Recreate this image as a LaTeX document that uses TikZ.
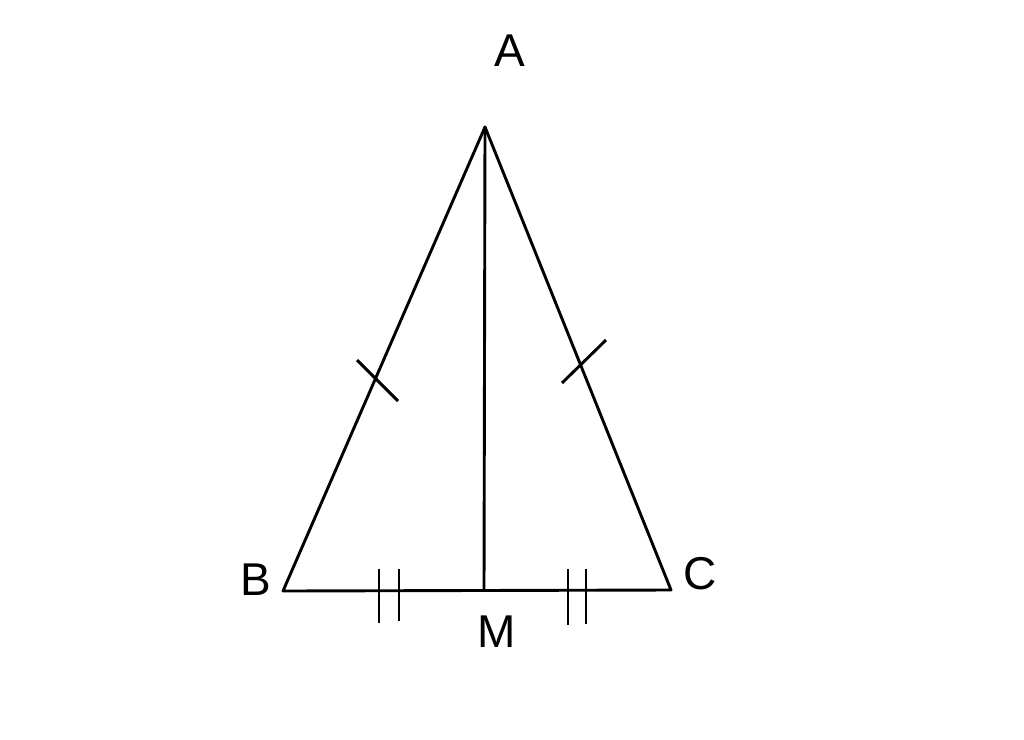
\documentclass[tikz,border=0pt]{standalone}
\usepackage{fontspec}
\setmainfont{Liberation Sans}
\begin{document}
\begin{tikzpicture}[x=1pt,y=-1pt,
  seg/.style={line width=2.9pt,line cap=round,line join=round},
  tick/.style={line width=2.9pt},
  lbl/.style={inner sep=0pt,font=\fontsize{46}{50}\selectfont}]
\useasboundingbox (0,0) rectangle (1024,739);
\coordinate (A) at (485,127);
\coordinate (B) at (283,591);
\coordinate (C) at (671,590);
\coordinate (M) at (484,590.5);
\draw[seg] (B) -- (A) -- (C) -- cycle;
\draw[seg] (A) -- (M);
% single ticks
\coordinate (t1a) at (357,360); \coordinate (t1b) at (398,401);
\coordinate (t2a) at (562,383); \coordinate (t2b) at (606,340);
\draw[tick] (t1a) -- (t1b);
\draw[tick] (t2a) -- (t2b);
% double ticks
\coordinate (d1a) at (379,569); \coordinate (d1b) at (379,623);
\coordinate (d2a) at (399,569); \coordinate (d2b) at (399,621);
\coordinate (d3a) at (568,569); \coordinate (d3b) at (568,625);
\coordinate (d4a) at (586,569); \coordinate (d4b) at (586,624);
\draw[tick] (d1a) -- (d1b);
\draw[tick] (d2a) -- (d2b);
\draw[tick] (d3a) -- (d3b);
\draw[tick] (d4a) -- (d4b);
\node[lbl] (lA) at (510,51) {A};
\node[lbl] (lB) at (256,580) {B};
\node[lbl] (lC) at (700,574) {C};
\node[lbl] (lM) at (497,632) {M};
\end{tikzpicture}
\end{document}
